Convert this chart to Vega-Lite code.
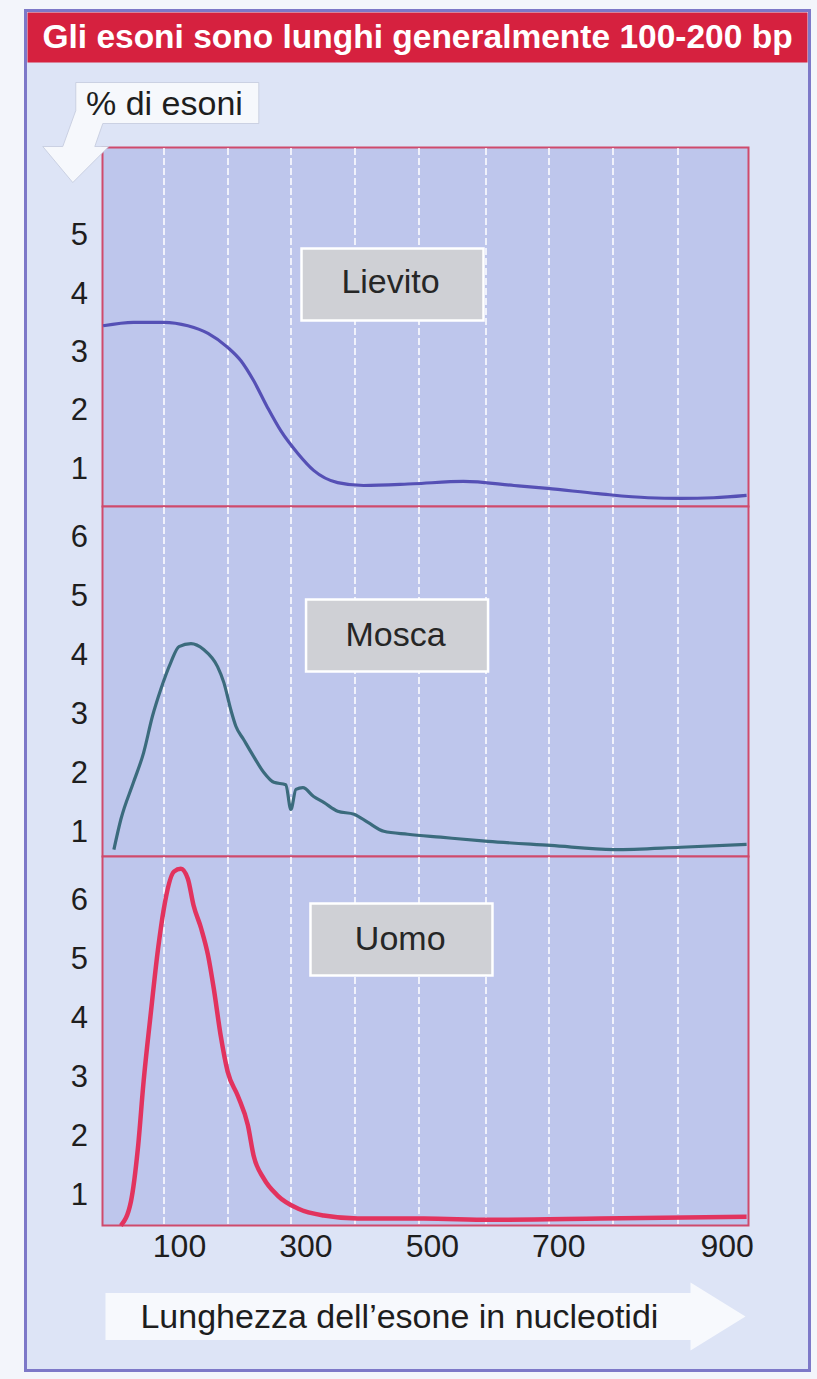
{
  "$schema": "https://vega.github.io/schema/vega-lite/v6.json",
  "background": "#f3f5fb",
  "padding": {"left": 19.5, "top": 4.5, "right": 2.5, "bottom": 3.5},
  "bounds": "flush",
  "spacing": 0,
  "config": {
    "font": "Liberation Sans",
    "view": {"stroke": null},
    "axis": {"labelFont": "Liberation Sans", "titleFont": "Liberation Sans"}
  },
  "datasets": {
    "curves": [
      {"s": "Lievito", "x": -20, "y": 3.46},
      {"s": "Lievito", "x": 28, "y": 3.52},
      {"s": "Lievito", "x": 76, "y": 3.52},
      {"s": "Lievito", "x": 114, "y": 3.46},
      {"s": "Lievito", "x": 146, "y": 3.33},
      {"s": "Lievito", "x": 177, "y": 3.09},
      {"s": "Lievito", "x": 198, "y": 2.86},
      {"s": "Lievito", "x": 218, "y": 2.52},
      {"s": "Lievito", "x": 240, "y": 2.06},
      {"s": "Lievito", "x": 261, "y": 1.66},
      {"s": "Lievito", "x": 288, "y": 1.27},
      {"s": "Lievito", "x": 313, "y": 0.98},
      {"s": "Lievito", "x": 351, "y": 0.77},
      {"s": "Lievito", "x": 392, "y": 0.72},
      {"s": "Lievito", "x": 471, "y": 0.75},
      {"s": "Lievito", "x": 550, "y": 0.79},
      {"s": "Lievito", "x": 630, "y": 0.72},
      {"s": "Lievito", "x": 683, "y": 0.67},
      {"s": "Lievito", "x": 763, "y": 0.58},
      {"s": "Lievito", "x": 842, "y": 0.51},
      {"s": "Lievito", "x": 894, "y": 0.50},
      {"s": "Lievito", "x": 946, "y": 0.51},
      {"s": "Lievito", "x": 998, "y": 0.55},
      {"s": "Mosca", "x": -3, "y": 0.71},
      {"s": "Mosca", "x": 8, "y": 1.22},
      {"s": "Mosca", "x": 28, "y": 1.85},
      {"s": "Mosca", "x": 44, "y": 2.35},
      {"s": "Mosca", "x": 58, "y": 2.97},
      {"s": "Mosca", "x": 71, "y": 3.42},
      {"s": "Mosca", "x": 87, "y": 3.88},
      {"s": "Mosca", "x": 100, "y": 4.15},
      {"s": "Mosca", "x": 119, "y": 4.20},
      {"s": "Mosca", "x": 139, "y": 4.10},
      {"s": "Mosca", "x": 161, "y": 3.81},
      {"s": "Mosca", "x": 171, "y": 3.54},
      {"s": "Mosca", "x": 182, "y": 3.08},
      {"s": "Mosca", "x": 190, "y": 2.80},
      {"s": "Mosca", "x": 202, "y": 2.58},
      {"s": "Mosca", "x": 218, "y": 2.29},
      {"s": "Mosca", "x": 234, "y": 2.02},
      {"s": "Mosca", "x": 250, "y": 1.85},
      {"s": "Mosca", "x": 269, "y": 1.81},
      {"s": "Mosca", "x": 277, "y": 1.39},
      {"s": "Mosca", "x": 285, "y": 1.73},
      {"s": "Mosca", "x": 296, "y": 1.76},
      {"s": "Mosca", "x": 313, "y": 1.61},
      {"s": "Mosca", "x": 329, "y": 1.51},
      {"s": "Mosca", "x": 351, "y": 1.36},
      {"s": "Mosca", "x": 377, "y": 1.31},
      {"s": "Mosca", "x": 399, "y": 1.17},
      {"s": "Mosca", "x": 424, "y": 1.02},
      {"s": "Mosca", "x": 462, "y": 0.97},
      {"s": "Mosca", "x": 514, "y": 0.92},
      {"s": "Mosca", "x": 589, "y": 0.85},
      {"s": "Mosca", "x": 688, "y": 0.78},
      {"s": "Mosca", "x": 788, "y": 0.71},
      {"s": "Mosca", "x": 894, "y": 0.75},
      {"s": "Mosca", "x": 998, "y": 0.80},
      {"s": "Uomo", "x": 8, "y": 0.49},
      {"s": "Uomo", "x": 24, "y": 0.90},
      {"s": "Uomo", "x": 35, "y": 1.80},
      {"s": "Uomo", "x": 44, "y": 2.93},
      {"s": "Uomo", "x": 55, "y": 4.05},
      {"s": "Uomo", "x": 67, "y": 5.19},
      {"s": "Uomo", "x": 76, "y": 5.86},
      {"s": "Uomo", "x": 92, "y": 6.49},
      {"s": "Uomo", "x": 103, "y": 6.54},
      {"s": "Uomo", "x": 114, "y": 6.37},
      {"s": "Uomo", "x": 123, "y": 5.92},
      {"s": "Uomo", "x": 135, "y": 5.53},
      {"s": "Uomo", "x": 146, "y": 5.07},
      {"s": "Uomo", "x": 155, "y": 4.51},
      {"s": "Uomo", "x": 166, "y": 3.71},
      {"s": "Uomo", "x": 177, "y": 3.10},
      {"s": "Uomo", "x": 193, "y": 2.69},
      {"s": "Uomo", "x": 209, "y": 2.19},
      {"s": "Uomo", "x": 218, "y": 1.68},
      {"s": "Uomo", "x": 234, "y": 1.29},
      {"s": "Uomo", "x": 256, "y": 1.00},
      {"s": "Uomo", "x": 288, "y": 0.78},
      {"s": "Uomo", "x": 329, "y": 0.66},
      {"s": "Uomo", "x": 383, "y": 0.61},
      {"s": "Uomo", "x": 487, "y": 0.61},
      {"s": "Uomo", "x": 593, "y": 0.59},
      {"s": "Uomo", "x": 767, "y": 0.61},
      {"s": "Uomo", "x": 998, "y": 0.64}
    ]
  },
  "vconcat": [
    {
      "width": 646,
      "height": 135,
      "data": {"values": [{"t": "Gli esoni sono lunghi generalmente 100-200 bp"}]},
      "layer": [
        {
          "mark": {"type": "point", "shape": "M -4 -0.695 H 3.84 V 12.905 H -4 Z", "size": 40000, "filled": true, "fill": "#dde4f6", "stroke": "#7d78c8", "strokeWidth": 3, "opacity": 1}
        },
        {
          "mark": {"type": "point", "shape": "M -3.98 -0.675 H 3.82 V -0.175 H -3.98 Z", "size": 40000, "filled": true, "fill": "#d6213f", "strokeWidth": 0, "opacity": 1}
        },
        {
          "mark": {"type": "text", "font": "Liberation Sans", "fontWeight": "bold", "fontSize": 33.5, "color": "white", "baseline": "middle", "dx": -8, "dy": -42.5},
          "encoding": {"text": {"field": "t"}}
        }
      ]
    },
    {
      "width": 646,
      "height": 359,
      "view": {"fill": "#bec6ec", "stroke": "#cf4a6c", "strokeWidth": 2},
      "layer": [
        {
          "data": {"name": "curves"},
          "transform": [{"filter": "datum.s == 'Lievito'"}],
          "mark": {"type": "line", "color": "#5550b5", "strokeWidth": 3.2, "interpolate": "monotone"},
          "encoding": {
            "x": {"field": "x", "type": "quantitative", "scale": {"domain": [-21, 1001], "nice": false, "zero": false},
              "axis": {"values": [76, 177, 277, 378, 479, 585, 684, 786, 889], "grid": true, "gridColor": "white", "gridDash": [7, 3], "gridWidth": 1.6, "gridOpacity": 0.95, "labels": false, "ticks": false, "domain": false, "title": null}},
            "y": {"field": "y", "type": "quantitative", "scale": {"domain": [0.36, 6.518], "nice": false, "zero": false},
              "axis": {"values": [1, 2, 3, 4, 5], "format": "d", "title": null, "domain": false, "ticks": false, "tickSize": 0, "grid": false, "labelFontSize": 31, "labelColor": "#1e1e1e", "labelPadding": 15, "minExtent": 75, "maxExtent": 75}}
          }
        },
        {
          "data": {"values": [{"n": "Lievito"}]},
          "mark": {"type": "point", "shape": "M -0.91 -0.36 H 0.91 V 0.36 H -0.91 Z", "size": 40000, "filled": true, "fill": "#cfd0d5", "stroke": "white", "strokeWidth": 2.5, "opacity": 1},
          "encoding": {"x": {"datum": 437.8}, "y": {"datum": 4.168}}
        },
        {
          "data": {"values": [{"n": "Lievito"}]},
          "mark": {"type": "text", "fontSize": 34, "color": "#262626", "baseline": "alphabetic", "align": "center"},
          "encoding": {"x": {"datum": 434.7}, "y": {"datum": 4.014}, "text": {"field": "n"}}
        },
        {
          "data": {"values": [{"n": "% di esoni"}]},
          "mark": {"type": "point", "shape": "M -0.915 -0.205 L 0.915 -0.205 L 0.915 0.205 L -0.645 0.205 L -0.725 0.435 L -0.585 0.435 L -0.945 0.795 L -1.245 0.435 L -1.045 0.435 L -0.915 0.075 Z", "size": 40000, "filled": true, "fill": "#f6f8fc", "stroke": "#c3c9dc", "strokeWidth": 0.8, "opacity": 1},
          "encoding": {"x": {"datum": 81.5}, "y": {"datum": 7.281}}
        },
        {
          "data": {"values": [{"n": "% di esoni"}]},
          "mark": {"type": "text", "fontSize": 34, "color": "#1e1e1e", "baseline": "alphabetic", "align": "center"},
          "encoding": {"x": {"datum": 77}, "y": {"datum": 7.067}, "text": {"field": "n"}}
        }
      ]
    },
    {
      "width": 646,
      "height": 350,
      "view": {"fill": "#bec6ec", "stroke": "#cf4a6c", "strokeWidth": 2},
      "layer": [
        {
          "data": {"name": "curves"},
          "transform": [{"filter": "datum.s == 'Mosca'"}],
          "mark": {"type": "line", "color": "#3b6b7d", "strokeWidth": 3.2, "interpolate": "monotone"},
          "encoding": {
            "x": {"field": "x", "type": "quantitative", "scale": {"domain": [-21, 1001], "nice": false, "zero": false},
              "axis": {"values": [76, 177, 277, 378, 479, 585, 684, 786, 889], "grid": true, "gridColor": "white", "gridDash": [7, 3], "gridWidth": 1.6, "gridOpacity": 0.95, "labels": false, "ticks": false, "domain": false, "title": null}},
            "y": {"field": "y", "type": "quantitative", "scale": {"domain": [0.593, 6.525], "nice": false, "zero": false},
              "axis": {"values": [1, 2, 3, 4, 5, 6], "format": "d", "title": null, "domain": false, "ticks": false, "tickSize": 0, "grid": false, "labelFontSize": 31, "labelColor": "#1e1e1e", "labelPadding": 15, "minExtent": 75, "maxExtent": 75}}
          }
        },
        {
          "data": {"values": [{"n": "Mosca"}]},
          "mark": {"type": "point", "shape": "M -0.91 -0.36 H 0.91 V 0.36 H -0.91 Z", "size": 40000, "filled": true, "fill": "#cfd0d5", "stroke": "white", "strokeWidth": 2.5, "opacity": 1},
          "encoding": {"x": {"datum": 445}, "y": {"datum": 4.339}}
        },
        {
          "data": {"values": [{"n": "Mosca"}]},
          "mark": {"type": "text", "fontSize": 34, "color": "#262626", "baseline": "alphabetic", "align": "center"},
          "encoding": {"x": {"datum": 442.6}, "y": {"datum": 4.153}, "text": {"field": "n"}}
        }
      ]
    },
    {
      "width": 646,
      "height": 369,
      "view": {"fill": "#bec6ec", "stroke": "#cf4a6c", "strokeWidth": 2},
      "layer": [
        {
          "data": {"name": "curves"},
          "transform": [{"filter": "datum.s == 'Uomo'"}],
          "mark": {"type": "line", "color": "#e2335e", "strokeWidth": 4.5, "interpolate": "monotone"},
          "encoding": {
            "x": {"field": "x", "type": "quantitative", "scale": {"domain": [-21, 1001], "nice": false, "zero": false},
              "axis": {"values": [76, 100, 177, 277, 300, 378, 479, 500, 585, 684, 700, 786, 889, 900], "grid": true, "gridColor": "white", "gridDash": [7, 3], "gridWidth": 1.6,
                "gridOpacity": {"condition": {"test": "datum.value % 100 == 0", "value": 0}, "value": 0.95},
                "labelExpr": "datum.value % 200 == 100 ? datum.label : ''",
                "labelOffset": {"condition": {"test": "datum.value == 900", "value": 42}, "value": 0},
                "labelFlush": false, "labelOverlap": false, "labelFontSize": 32, "labelColor": "#1e1e1e", "labelPadding": 6,
                "ticks": false, "tickSize": 0, "domain": false, "title": null}},
            "y": {"field": "y", "type": "quantitative", "scale": {"domain": [0.492, 6.746], "nice": false, "zero": false},
              "axis": {"values": [1, 2, 3, 4, 5, 6], "format": "d", "title": null, "domain": false, "ticks": false, "tickSize": 0, "grid": false, "labelFontSize": 31, "labelColor": "#1e1e1e", "labelPadding": 15, "minExtent": 75, "maxExtent": 75}}
          }
        },
        {
          "data": {"values": [{"n": "Lunghezza"}]},
          "mark": {"type": "point", "shape": "M -3.2 -0.235 L 2.65 -0.235 L 2.65 -0.34 L 3.2 0 L 2.65 0.34 L 2.65 0.235 L -3.2 0.235 Z", "size": 40000, "filled": true, "fill": "#f7f9fd", "strokeWidth": 0, "opacity": 1},
          "encoding": {"x": {"datum": 490}, "y": {"datum": -1.051}}
        },
        {
          "data": {"values": [{"n": "Uomo"}]},
          "mark": {"type": "point", "shape": "M -0.91 -0.36 H 0.91 V 0.36 H -0.91 Z", "size": 40000, "filled": true, "fill": "#cfd0d5", "stroke": "white", "strokeWidth": 2.5, "opacity": 1},
          "encoding": {"x": {"datum": 452}, "y": {"datum": 5.339}}
        },
        {
          "data": {"values": [{"n": "Uomo"}]},
          "mark": {"type": "text", "fontSize": 34, "color": "#262626", "baseline": "alphabetic", "align": "center"},
          "encoding": {"x": {"datum": 450}, "y": {"datum": 5.153}, "text": {"field": "n"}}
        },
        {
          "data": {"values": [{"n": "Lunghezza dell’esone in nucleotidi"}]},
          "mark": {"type": "text", "fontSize": 34, "color": "#1e1e1e", "baseline": "alphabetic", "align": "left"},
          "encoding": {"x": {"datum": 39}, "y": {"datum": -1.237}, "text": {"field": "n"}}
        }
      ]
    }
  ]
}
